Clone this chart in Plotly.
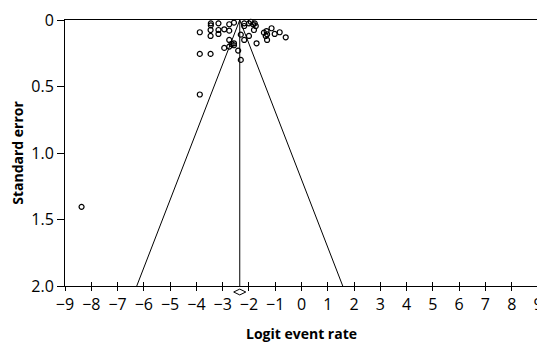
import plotly.graph_objects as go

# Study points: logit event rate vs standard error
logit_rate = [-3.87, -3.45, -3.45, -3.46, -3.46, -3.16, -3.16, -3.16, -2.94, -2.75,
              -2.75, -2.57, -3.87, -3.46, -3.87, -2.75, -2.94, -2.75, -2.66, -2.57,
              -2.57, -2.41, -2.31, -2.31, -2.18, -2.18, -2.18, -2.0, -2.0, -1.93,
              -1.84, -1.78, -1.81, -1.74, -1.71, -1.43, -1.33, -1.31, -1.36, -1.31,
              -1.14, -1.02, -0.83, -0.6, -8.37]
std_error = [0.092, 0.025, 0.04, 0.075, 0.12, 0.025, 0.075, 0.105, 0.07, 0.032,
             0.08, 0.02, 0.255, 0.255, 0.56, 0.15, 0.21, 0.2, 0.18, 0.175,
             0.19, 0.23, 0.3, 0.11, 0.15, 0.045, 0.025, 0.12, 0.025, 0.013,
             0.032, 0.025, 0.075, 0.045, 0.175, 0.095, 0.083, 0.107, 0.12, 0.15,
             0.062, 0.105, 0.092, 0.13, 1.405]

pooled = -2.35
pooled_ci = [-2.58, -2.12]
se_range = [0.0, 2.0]
z = 1.96

x_ticks = list(range(-9, 10))
y_ticks = [0, 0.5, 1.0, 1.5, 2.0]
y_ticktext = ["0", "0.5", "1.0", "1.5", "2.0"]

fig = go.Figure()

# funnel
fig.add_trace(go.Scatter(
    x=[pooled - z * se_range[1], pooled, pooled + z * se_range[1]],
    y=[se_range[1], se_range[0], se_range[1]],
    mode="lines", line=dict(color="black", width=1), showlegend=False, hoverinfo="skip"))
fig.add_trace(go.Scatter(
    x=[pooled, pooled], y=se_range,
    mode="lines", line=dict(color="black", width=1), showlegend=False, hoverinfo="skip"))

fig.add_trace(go.Scatter(
    x=logit_rate, y=std_error, mode="markers",
    marker=dict(symbol="circle-open", size=5, color="black", line=dict(width=1.2)),
    showlegend=False, cliponaxis=False))

# overlay axis for inside ticks (crossing tick marks)
fig.add_trace(go.Scatter(x=[pooled], y=[1], xaxis="x2", mode="markers",
                         marker=dict(opacity=0), showlegend=False, hoverinfo="skip"))

# pooled diamond below axis
fig.add_shape(type="path", xref="x", yref="paper",
              path=f"M {pooled_ci[0]},-0.0226 L {pooled},-0.0116 L {pooled_ci[1]},-0.0226 L {pooled},-0.0336 Z",
              line=dict(color="black", width=1), fillcolor="white")

font_family = "Open Sans, DejaVu Sans, sans-serif"

fig.update_layout(
    width=537, height=335,
    margin=dict(l=57, r=7, t=12, b=57),
    paper_bgcolor="white", plot_bgcolor="white",
    font=dict(family=font_family, size=16, color="black"),
    xaxis=dict(range=[-9, 9], tickvals=x_ticks, showgrid=False, zeroline=False,
               showline=True, linecolor="black", linewidth=1, mirror=True,
               ticks="outside", ticklen=4, tickcolor="black", tickwidth=1,
               automargin=False,
               title=dict(text="<b>Logit event rate</b>", font=dict(size=14), standoff=14)),
    xaxis2=dict(range=[-9, 9], tickvals=x_ticks, overlaying="x", anchor="y", side="bottom",
                showgrid=False, zeroline=False, showline=False, showticklabels=False,
                ticks="inside", ticklen=4, tickcolor="black", tickwidth=1, automargin=False),
    yaxis=dict(range=[2, 0], tickvals=y_ticks, ticktext=y_ticktext, showgrid=False,
               zeroline=False, showline=True, linecolor="black", linewidth=1, mirror=True,
               ticks="outside", ticklen=7, tickcolor="black", tickwidth=1,
               automargin=False,
               title=dict(text="<b>Standard error</b>", font=dict(size=14), standoff=6)),
)

fig.write_html("out.html")
